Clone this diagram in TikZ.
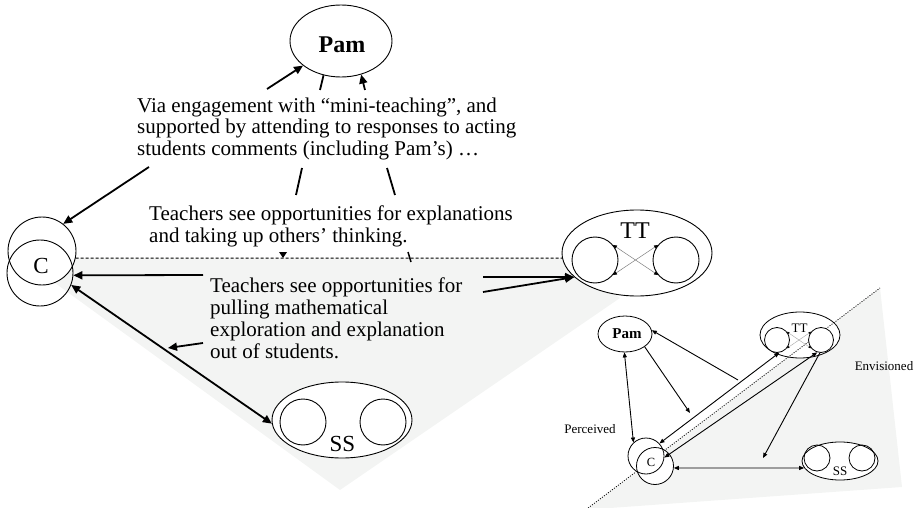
\documentclass[tikz,border=0pt]{standalone}
\usepackage{fontspec}
\setmainfont{Liberation Serif}
\usetikzlibrary{arrows.meta,shapes.geometric}
\definecolor{paleshade}{RGB}{243,244,243}
\tikzset{
  ring/.style={draw,circle,inner sep=0pt,line width=0.9pt},
  oval/.style={draw,ellipse,inner sep=0pt,line width=0.9pt},
  heavy/.style={line width=1.8pt,-{Triangle[length=9pt,width=8pt]}},
  heavyboth/.style={line width=1.8pt,{Triangle[length=9pt,width=8pt]}-{Triangle[length=9pt,width=8pt]}},
  heavyline/.style={line width=1.8pt},
  slim/.style={line width=0.9pt,-{Triangle[length=5pt,width=4pt]}},
  slimboth/.style={line width=0.9pt,{Triangle[length=5pt,width=4pt]}-{Triangle[length=5pt,width=4pt]}},
  xlink/.style={draw=gray,line width=0.5pt,{Triangle[length=4pt,width=3.5pt,color=black]}-{Triangle[length=4pt,width=3.5pt,color=black]}},
  xlinksmall/.style={draw=gray!70,line width=0.4pt,{Triangle[length=2.5pt,width=2pt,color=black]}-{Triangle[length=2.5pt,width=2pt,color=black]}},
  % multi-line text: the base anchor sits on the last line
  body/.style={font=\fontsize{21}{21.5}\selectfont,align=left,anchor=base west,inner sep=0pt},
  tag/.style={inner sep=0pt},
}
\begin{document}
\begin{tikzpicture}[x=1pt,y=-1pt]
\useasboundingbox (0,0) rectangle (919,508);

% shaded planes
\fill[paleshade] (60,258) -- (563,258) -- (620,298) -- (340,490) -- (55,283) -- cycle;
\fill[paleshade] (588,508) -- (880,288) -- (902,487) -- (610,508) -- cycle;

% ---------------- large diagram ----------------
\node[oval,fill=white,minimum width=102pt,minimum height=72pt] (pam) at (341,41) {};
\node[tag,font=\bfseries\fontsize{24}{24}\selectfont] (pamlab) at (342,44.5) {Pam};

\node[ring,fill=white,minimum size=68pt] (c1) at (42,251) {};
\node[ring,minimum size=66pt] (c2) at (40,273) {};
\node[tag,font=\fontsize{23}{23}\selectfont] (clab) at (41,266) {C};

\node[oval,fill=white,minimum width=150pt,minimum height=86pt] (tt) at (637,253) {};
\node[ring,minimum size=46pt] (ttl) at (595,260) {};
\node[ring,minimum size=46pt] (ttr) at (676,260) {};
\node[tag,font=\fontsize{24}{24}\selectfont] (ttlab) at (635,231) {TT};
\draw[xlink] (ttl.40) -- (ttr.220);
\draw[xlink] (ttl.-40) -- (ttr.140);

\node[oval,fill=white,minimum width=140pt,minimum height=76pt] (ss) at (342,420) {};
\node[ring,minimum size=46pt] (ssl) at (303,422) {};
\node[ring,minimum size=46pt] (ssr) at (383,422) {};
\node[tag,font=\fontsize{23}{23}\selectfont] (sslab) at (342.5,443.5) {SS};

% texts
\node[body] (via) at (137,155.5) {Via engagement with “mini-teaching”, and\\supported by attending to responses to acting\\students comments (including Pam’s) …};
\node[body] (expl) at (149,242) {Teachers see opportunities for explanations\\and taking up others’ thinking.};
\node[body,font=\fontsize{21}{22}\selectfont] (pull) at (210,358) {Teachers see opportunities for\\pulling mathematical\\exploration and explanation\\out of students.};

% connectors of the large diagram
\coordinate (v1) at (267,89);
\coordinate (v2) at (320,90);
\coordinate (v3) at (365,90);
\coordinate (v4) at (149,167);
\draw[heavy] (v1) -- (pam);
\draw[heavyline] (v2) -- (pam.243);
\draw[heavy] (v3) -- (pam.301);
\draw[heavy] (v4) -- (c1.52);

\coordinate (w1) at (302,168); \coordinate (w2) at (296,195);
\coordinate (w3) at (387,168); \coordinate (w4) at (395,195);
\draw[heavyline] (w1) -- (w2);
\draw[heavyline] (w3) -- (w4);

\draw[line width=1pt,dash pattern=on 3pt off 2pt] (c1.-12) -- (tt.184);
\fill (279,252) -- (287,252) -- (283,258) -- cycle;
\coordinate (k1) at (408,252); \coordinate (k2) at (411,262);
\draw[line width=1.5pt] (k1) -- (k2);

\coordinate (p1) at (483,277);
\coordinate (p2) at (483,292);
\draw[heavy] (p1) -- (tt.201);
\draw[heavy] (p2) -- (tt.201);

\coordinate (q1) at (203,275);
\draw[heavy] (q1) -- (c2.-4);
\coordinate (q2) at (203,343);
\coordinate (q3) at (168,348);
\draw[heavy] (q2) -- (q3);
\draw[heavyboth] (c2.-21) -- (ss.183);

% ---------------- small diagram ----------------
\node[oval,line width=0.8pt,minimum width=54pt,minimum height=36pt] (spam) at (625,334) {};
\node[tag,font=\bfseries\fontsize{15}{15}\selectfont] (spamlab) at (627,334) {Pam};

\node[oval,line width=0.8pt,fill=white,minimum width=80pt,minimum height=46pt] (stt) at (800,335) {};

\coordinate (d1) at (588,508);
\coordinate (d2) at (880,288);
\draw[line width=0.8pt,dash pattern=on 1pt off 1.5pt] (d1) -- (d2);

\node[ring,line width=0.8pt,fill=white,minimum size=25pt] (sttl) at (777,340) {};
\node[ring,line width=0.8pt,fill=white,minimum size=25pt] (sttr) at (821,340) {};
\node[tag,font=\fontsize{13}{13}\selectfont] (sttlab) at (799.5,328.5) {TT};
\draw[xlinksmall] (sttl.40) -- (sttr.220);
\draw[xlinksmall] (sttl.-40) -- (sttr.140);

\node[oval,line width=0.8pt,fill=white,minimum width=76pt,minimum height=38pt] (sss) at (840,461) {};
\node[ring,line width=0.8pt,minimum size=26pt] (sssl) at (817,458) {};
\node[ring,line width=0.8pt,minimum size=26pt] (sssr) at (862,458) {};
\node[tag,font=\fontsize{13}{13}\selectfont] (ssslab) at (840,471) {SS};

\fill[white] (655,466) circle[radius=18.5];
\node[ring,line width=0.8pt,fill=white,minimum size=36pt] (cs1) at (646,456) {};
\node[ring,line width=0.8pt,minimum size=37pt] (cs2) at (655,466) {};
\node[tag,font=\fontsize{12.5}{12.5}\selectfont] (cslab) at (651,462) {C};

\node[tag,font=\fontsize{13}{13}\selectfont] (perc) at (590,429) {Perceived};
\node[tag,font=\fontsize{13}{13}\selectfont] (envi) at (884,366) {Envisioned};

% connectors of the small diagram
\draw[slimboth] (spam.268) -- (cs1.133);
\coordinate (m1) at (690,413);
\draw[slim] (spam.-33) -- (m1);
\coordinate (m2) at (738,380);
\draw[slim] (m2) -- (spam.8);
\draw[slimboth] (cs1.43) -- (sttl.-80);
\draw[slimboth] (cs1.-5) -- (sttr.253);
\coordinate (m3) at (763,458);
\draw[slim] (sttr.265) -- (m3);
\draw[slimboth] (cs2.-6) -- (sss.191);
\end{tikzpicture}
\end{document}
